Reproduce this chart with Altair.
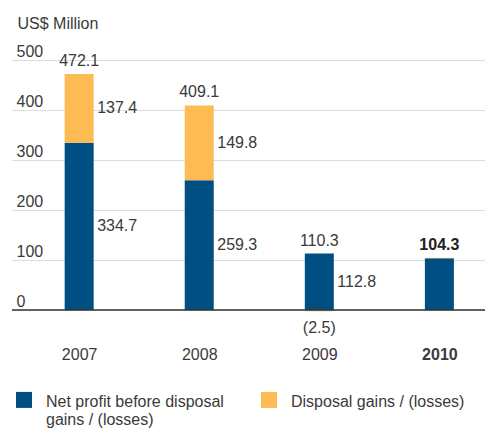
import altair as alt
import pandas as pd

years = [2007, 2008, 2009, 2010]
net_profit = [334.7, 259.3, 112.8, 103.4]
disposal = [137.4, 149.8, -2.5, 0.9]
totals = [472.1, 409.1, 110.3, 104.3]

series_net = "Net profit before disposal gains / (losses)"
series_disp = "Disposal gains / (losses)"

FONT = "Liberation Sans"
TXT = "#3a3a3a"
BLUE = "#004f82"
ORANGE = "#fdbb53"

rows = []
for y, n, d in zip(years, net_profit, disposal):
    rows.append({"year": y, "series": series_net, "value": n})
    rows.append({"year": y, "series": series_disp, "value": d})
bars_df = pd.DataFrame(rows)

lab = []
for y, n, d, t in zip(years, net_profit, disposal, totals):
    top = n + max(d, 0)
    lab.append({
        "year": y,
        "net": n,
        "net_mid": n / 2,
        "disp": d,
        "disp_mid": n + d / 2,
        "top": top,
        "total_txt": f"{t:.1f}",
        "net_txt": f"{n:.1f}",
        "disp_txt": f"{d:.1f}" if d >= 0 else f"({abs(d):.1f})",
    })
lab_df = pd.DataFrame(lab)

xscale = alt.Scale(domain=[2006.4823, 2010.3383], nice=False, zero=False)
yscale = alt.Scale(domain=[-30, 500], nice=False, zero=False)

x_axis = alt.Axis(
    values=years, format="d", title=None, grid=False, ticks=False, domain=False,
    labelFont=FONT, labelFontSize=16, labelColor=TXT, labelPadding=21,
    labelBaseline="top",
    labelFontWeight={"condition": {"test": "datum.value == 2010", "value": "bold"}, "value": "normal"},
)
y_axis = alt.Axis(
    values=[0, 100, 200, 300, 400, 500], title="US$ Million", grid=True,
    gridColor="#dcdcdc", gridWidth=1, ticks=False, tickSize=0, domain=False,
    labelFont=FONT, labelFontSize=16, labelColor=TXT, labelAlign="left",
    labelBaseline="alphabetic", labelPadding=-4, labelOffset=-4,
    titleFont=FONT, titleFontSize=16, titleColor=TXT, titleFontWeight="normal",
    titleAngle=0, titleAlign="left", titleBaseline="alphabetic", titleX=5, titleY=-32,
)

label_expr = (
    "datum.label == '" + series_net + "' ? ['Net profit before disposal', 'gains / (losses)'] : "
    "[datum.label, '']"
)

bars = alt.Chart(bars_df).mark_bar(size=29).encode(
    x=alt.X("year:Q", scale=xscale, axis=x_axis),
    y=alt.Y("value:Q", scale=yscale, axis=y_axis, stack="zero"),
    color=alt.Color(
        "series:N",
        scale=alt.Scale(domain=[series_net, series_disp], range=[BLUE, ORANGE]),
        legend=alt.Legend(
            title=None, orient="none", legendX=4, legendY=326, direction="horizontal",
            columns=2, columnPadding=37, padding=0,
            symbolType="M-1,-0.26H1V1.74H-1Z", symbolSize=256, symbolStrokeWidth=0, symbolOpacity=1,
            labelFont=FONT, labelFontSize=16, labelColor=TXT, labelOffset=14,
            labelBaseline="top", labelLimit=400,
            labelExpr=label_expr,
        ),
    ),
    order=alt.Order("order:Q"),
).transform_calculate(order=f"datum.series == '{series_net}' ? 0 : 1")

zero_rule = alt.Chart(pd.DataFrame({"v": [0]})).mark_rule(color="#333333", strokeWidth=1.5).encode(
    y=alt.Y("v:Q", scale=yscale)
)

base = alt.Chart(lab_df)
X = alt.X("year:Q", scale=xscale)

total_labels = base.transform_filter("datum.year != 2010").mark_text(
    font=FONT, fontSize=16, color=TXT, baseline="alphabetic", dy=-8
).encode(
    x=X,
    y=alt.Y("top:Q", scale=yscale),
    text="total_txt:N",
)

total_bold = base.transform_filter("datum.year == 2010").mark_text(
    font=FONT, fontSize=16, color="#222222", fontWeight="bold", baseline="alphabetic", dy=-8
).encode(
    x=X,
    y=alt.Y("top:Q", scale=yscale),
    text="total_txt:N",
)

net_labels = base.transform_filter("datum.year != 2010").mark_text(
    font=FONT, fontSize=16, color=TXT, align="left", baseline="middle", dx=18
).encode(
    x=X,
    y=alt.Y("net_mid:Q", scale=yscale),
    text="net_txt:N",
)

disp_pos_labels = base.transform_filter("datum.year != 2010 && datum.disp > 0").mark_text(
    font=FONT, fontSize=16, color=TXT, align="left", baseline="middle", dx=18
).encode(
    x=X,
    y=alt.Y("disp_mid:Q", scale=yscale),
    text="disp_txt:N",
)

disp_neg_labels = base.transform_filter("datum.disp < 0").mark_text(
    font=FONT, fontSize=16, color=TXT, align="center", baseline="middle", dy=17
).encode(
    x=X,
    y=alt.Y("disp:Q", scale=yscale),
    text="disp_txt:N",
)

chart = alt.layer(bars, zero_rule, total_labels, total_bold, net_labels, disp_pos_labels, disp_neg_labels).properties(
    width=473, height=265,
    background="white",
    autosize=alt.AutoSizeParams(type="none"),
    padding={"left": 4, "top": 52, "right": 0, "bottom": 120},
).configure_view(strokeWidth=0)

chart.save("out.html", embed_options={"renderer": "svg", "actions": False})
